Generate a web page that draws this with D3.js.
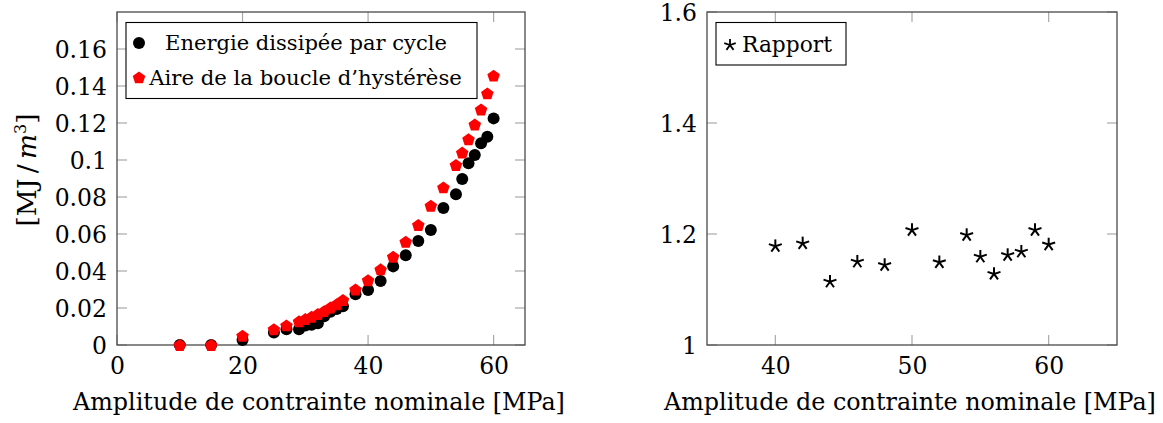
<!DOCTYPE html>
<html><head><meta charset="utf-8">
<script src="https://cdn.jsdelivr.net/npm/d3@7"></script>
<style>html,body{margin:0;padding:0;background:#fff;} svg{display:block;font-family:"DejaVu Serif",serif;}</style>
</head><body>
<svg id="c" width="1163" height="423"></svg>
<script>
// ---- data ----
const stressX   = [10,15,20,25,27,29,30,31,32,33,34,35,36,38,40,42,44,46,48,50,52,54,55,56,57,58,59,60];
const energyY   = [0,0,0.0027,0.0068,0.0085,0.0085,0.0105,0.011,0.0117,0.0155,0.018,0.0195,0.021,0.0274,0.0297,0.0346,0.0425,0.0485,0.0562,0.0622,0.074,0.0815,0.0897,0.0982,0.1027,0.109,0.1126,0.1225];
const areaY     = [0,0,0.005,0.0085,0.0106,0.0128,0.014,0.0153,0.0167,0.0183,0.0203,0.022,0.0243,0.030,0.035,0.0409,0.0477,0.0558,0.0649,0.0753,0.0852,0.0973,0.104,0.1112,0.1192,0.1273,0.136,0.1456];
const ratioX    = [40,42,44,46,48,50,52,54,55,56,57,58,59,60];
const ratioY    = [1.178,1.183,1.114,1.150,1.144,1.207,1.149,1.198,1.159,1.128,1.162,1.168,1.207,1.181];
const leftXTicks  = [0,20,40,60];
const leftYTicks  = [0,0.02,0.04,0.06,0.08,0.1,0.12,0.14,0.16];
const rightXTicks = [40,50,60];
const rightYTicks = [1,1.2,1.4,1.6];
const xLabel = "Amplitude de contrainte nominale [MPa]";
const legendLeft = ["Energie dissipée par cycle","Aire de la boucle d’hystérèse"];
const legendRight = "Rapport";

const svg = d3.select("#c");
const TICKFS = 23.5;

function fitText(sel, target){
  const w = sel.node().getComputedTextLength();
  const fs = parseFloat(sel.attr("font-size"));
  sel.attr("font-size", fs*target/w);
}

function panel(x0,x1,y0,y1,xd,yd,xt,yt,fmt){
  const x = d3.scaleLinear().domain(xd).range([x0,x1]);
  const y = d3.scaleLinear().domain(yd).range([y1,y0]);
  const g = svg.append("g");
  const tl = 10;
  const tc = "#a8a8a8";
  xt.forEach(v=>{
    g.append("line").attr("x1",x(v)).attr("x2",x(v)).attr("y1",y1).attr("y2",y1-tl).attr("stroke",tc).attr("stroke-width",1.2);
    g.append("line").attr("x1",x(v)).attr("x2",x(v)).attr("y1",y0).attr("y2",y0+tl).attr("stroke",tc).attr("stroke-width",1.2);
  });
  yt.forEach(v=>{
    g.append("line").attr("y1",y(v)).attr("y2",y(v)).attr("x1",x0).attr("x2",x0+tl).attr("stroke",tc).attr("stroke-width",1.2);
    g.append("line").attr("y1",y(v)).attr("y2",y(v)).attr("x1",x1).attr("x2",x1-tl).attr("stroke",tc).attr("stroke-width",1.2);
  });
  g.append("rect").attr("x",x0).attr("y",y0).attr("width",x1-x0).attr("height",y1-y0)
    .attr("fill","none").attr("stroke","#4a4a4a").attr("stroke-width",1.3);
  const ax = d3.axisBottom(x).tickValues(xt).tickSize(0).tickPadding(0).tickFormat(d3.format("d"));
  const gx = g.append("g").attr("transform",`translate(0,${y1})`).call(ax);
  gx.select(".domain").remove();
  gx.selectAll("text").attr("font-family","DejaVu Serif").attr("font-size",TICKFS).attr("fill","#000")
    .attr("dy",null).attr("y",29);
  const ay = d3.axisLeft(y).tickValues(yt).tickSize(0).tickPadding(10).tickFormat(fmt);
  const gy = g.append("g").attr("transform",`translate(${x0},0)`).call(ay);
  gy.select(".domain").remove();
  gy.selectAll("text").attr("font-family","DejaVu Serif").attr("font-size",TICKFS).attr("fill","#000").attr("dy","0.36em");
  const lab = g.append("text").attr("x",(x0+x1)/2-2).attr("y",410).attr("text-anchor","middle")
    .attr("font-size",22).text(xLabel);
  fitText(lab, 492);
  return {x,y,g};
}

// ---------- left panel ----------
const L = panel(117,525,12,345,[0,65],[0,0.18],leftXTicks,leftYTicks,d=>d===0?"0":String(+d.toFixed(2)));
const pent = d3.symbol().type({draw(ctx,size){const r=Math.sqrt(size);for(let i=0;i<5;i++){const a=-Math.PI/2+i*2*Math.PI/5;const px=r*Math.cos(a),py=r*Math.sin(a);i?ctx.lineTo(px,py):ctx.moveTo(px,py);}ctx.closePath();}}).size(6.6*6.6);
const dots = stressX.map((s,i)=>({s,e:energyY[i],a:areaY[i]}));
L.g.append("g").selectAll("circle").data(dots).join("circle")
  .attr("cx",d=>L.x(d.s)).attr("cy",d=>L.y(d.e)).attr("r",6).attr("fill","#000");
L.g.append("g").selectAll("path").data(dots).join("path")
  .attr("transform",d=>`translate(${L.x(d.s)},${L.y(d.a)+0.6})`).attr("d",pent).attr("fill","#f00");
// legend left
const lg = svg.append("g");
lg.append("rect").attr("x",126).attr("y",22.5).attr("width",351).attr("height",76).attr("fill","#fff").attr("stroke","#000").attr("stroke-width",1.1);
lg.append("circle").attr("cx",139).attr("cy",43).attr("r",6).attr("fill","#000");
lg.append("path").attr("transform","translate(139,78)").attr("d",pent).attr("fill","#f00");
const t1 = lg.append("text").attr("x",306).attr("y",50).attr("text-anchor","middle").attr("font-size",20).text(legendLeft[0]);
fitText(t1,282);
const t2 = lg.append("text").attr("x",305.5).attr("y",85).attr("text-anchor","middle").attr("font-size",20).text(legendLeft[1]);
fitText(t2,313);
// y label
const yl = svg.append("text").attr("transform","translate(36,170) rotate(-90)").attr("text-anchor","middle").attr("font-size",24);
yl.append("tspan").text("[MJ\u2009/\u2009");
yl.append("tspan").attr("font-style","italic").text("m");
yl.append("tspan").attr("font-size",16).attr("dy",-10).text("3");
yl.append("tspan").attr("dy",10).text("]");
fitText(yl,114);

// ---------- right panel ----------
const R = panel(707,1117,12,345,[35,65],[1,1.6],rightXTicks,rightYTicks,d=>d===1?"1":d.toFixed(1));
function star(g,cx,cy,r,w){
  const s=g.append("g").attr("transform",`translate(${cx},${cy})`);
  for(let i=0;i<5;i++){const a=-Math.PI/2+i*2*Math.PI/5;
    s.append("line").attr("x1",0).attr("y1",0).attr("x2",r*Math.cos(a)).attr("y2",r*Math.sin(a)).attr("stroke","#000").attr("stroke-width",w).attr("stroke-linecap","butt");}
}
const rg = R.g.append("g");
ratioX.forEach((v,i)=>star(rg,R.x(v),R.y(ratioY[i]),6.8,2));
const rl = svg.append("g");
rl.append("rect").attr("x",716).attr("y",22.5).attr("width",130).attr("height",42.5).attr("fill","#fff").attr("stroke","#000").attr("stroke-width",1.1);
star(rl,730,45,6,1.8);
const t3 = rl.append("text").attr("x",742).attr("y",52).attr("font-size",20).text(legendRight);
fitText(t3,90);
</script>
</body></html>
